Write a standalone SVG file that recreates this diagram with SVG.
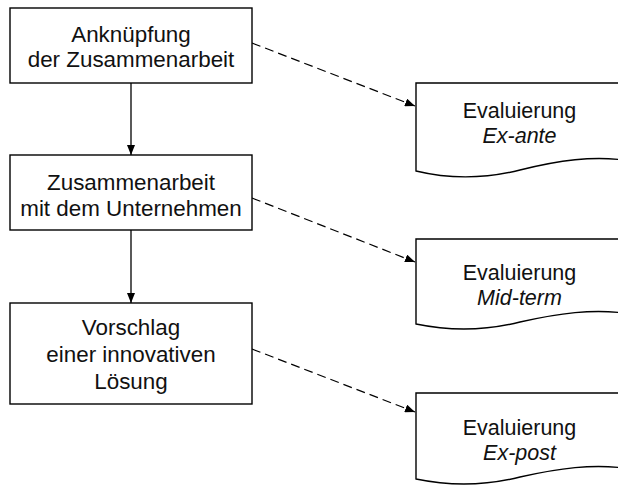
<svg xmlns="http://www.w3.org/2000/svg" width="618" height="487" viewBox="0 0 618 487">
<defs>
<style>
.box{fill:#fff;stroke:#000;stroke-width:1.4}
.t{font-family:"Liberation Sans",Arial,sans-serif;font-size:22.4px;fill:#111;text-anchor:middle}
.d{font-family:"Liberation Sans",Arial,sans-serif;font-size:21.5px;fill:#111;text-anchor:middle}
.i{font-style:italic}
.solid{fill:none;stroke:#000;stroke-width:1.3}
.dash{fill:none;stroke:#000;stroke-width:1.2;stroke-dasharray:9 5}
</style>
<marker id="ah" viewBox="0 0 10 8" refX="10" refY="4" markerWidth="10" markerHeight="8" markerUnits="userSpaceOnUse" orient="auto">
<path d="M0,0 L10,4 L0,8 Z" fill="#000"/>
</marker>
</defs>
<rect width="618" height="487" fill="#fff"/>
<g id="connectors">
<line class="solid" x1="131" y1="83" x2="131" y2="155" marker-end="url(#ah)"/>
<line class="solid" x1="131" y1="230" x2="131" y2="303" marker-end="url(#ah)"/>
<line class="dash" x1="252" y1="43" x2="415" y2="106" marker-end="url(#ah)"/>
<line class="dash" x1="252" y1="198" x2="415" y2="262" marker-end="url(#ah)"/>
<line class="dash" x1="252" y1="349" x2="415" y2="412" marker-end="url(#ah)"/>
</g>
<g id="n1">
<rect class="box" x="10" y="8" width="242" height="75"/>
<text class="t" x="131" y="42">Anknüpfung</text>
<text class="t" x="131" y="67">der Zusammenarbeit</text>
</g>
<g id="n2">
<rect class="box" x="10" y="155" width="242" height="75"/>
<text class="t" x="131" y="190">Zusammenarbeit</text>
<text class="t" x="131" y="216">mit dem Unternehmen</text>
</g>
<g id="n3">
<rect class="box" x="10" y="303" width="242" height="101"/>
<text class="t" x="131" y="335">Vorschlag</text>
<text class="t" x="131" y="362">einer innovativen</text>
<text class="t" x="131" y="389">Lösung</text>
</g>
<g id="d1">
<path class="box" d="M416,83 H624 V160 C592,156 560,160 520,170 C480,180 445,178 416,171 Z"/>
<text class="d" x="519.5" y="118">Evaluierung</text>
<text class="d i" x="519.5" y="143">Ex-ante</text>
</g>
<g id="d2">
<path class="box" d="M416,239 H624 V313 C592,309 560,313 520,322 C480,332 445,330 416,324 Z"/>
<text class="d" x="519.5" y="280">Evaluierung</text>
<text class="d i" x="519.5" y="305">Mid-term</text>
</g>
<g id="d3">
<path class="box" d="M416,393 H624 V468 C592,464 560,468 520,477 C480,487 445,485 416,479 Z"/>
<text class="d" x="519.5" y="435">Evaluierung</text>
<text class="d i" x="519.5" y="460">Ex-post</text>
</g>
</svg>
